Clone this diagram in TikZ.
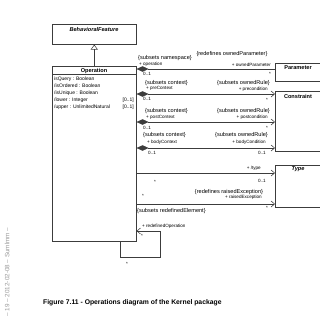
\documentclass[tikz,border=0pt]{standalone}
\usepackage{fontspec}
\setmainfont{Liberation Sans}
\usetikzlibrary{arrows.meta}
\definecolor{linecol}{HTML}{3C3C3C}
\begin{document}
\begin{tikzpicture}[x=1pt,y=-1pt,
  cls/.style={draw=linecol,line width=0.55pt,inner sep=0pt,anchor=north west},
  clsname/.style={font=\fontsize{5.6}{6}\selectfont\bfseries,inner sep=0pt},
  attr/.style={font=\fontsize{5}{6}\selectfont,inner sep=0pt},
  lab/.style={font=\fontsize{5.6}{6}\selectfont,inner sep=0pt},
  role/.style={font=\fontsize{4.6}{5}\selectfont,inner sep=0pt},
  conn/.style={draw=linecol,line width=0.55pt},
  comp/.style={conn,{Diamond[length=12pt,width=5.5pt]}-},
  nav/.style={conn,-{Straight Barb[length=3.5pt,width=6pt,line width=0.55pt]}},
  compnav/.style={conn,{Diamond[length=12pt,width=5.5pt]}-{Straight Barb[length=3.5pt,width=6pt,line width=0.55pt]}}]
\useasboundingbox (0,0) rectangle (320,330);
\clip (0,0) rectangle (320,330);

% classes
\node[cls,minimum width=84pt,minimum height=20pt] (bf) at (52,24) {};
\node[clsname,font=\fontsize{5.6}{6}\selectfont\bfseries\itshape] (bfname) at (94,29.5) {BehavioralFeature};

\node[cls,minimum width=84pt,minimum height=175pt] (op) at (52,66) {};
\node[clsname] (opname) at (94,71) {Operation};
\draw[conn] ([yshift=-8.5pt]op.north west) -- ([yshift=-8.5pt]op.north east);
\node[attr,anchor=west] (a1) at (54,79) {isQuery : Boolean};
\node[attr,anchor=west] (a2) at (54,86) {/isOrdered : Boolean};
\node[attr,anchor=west] (a3) at (54,93) {/isUnique : Boolean};
\node[attr,anchor=west] (a4) at (54,100) {/lower : Integer};
\node[attr,anchor=west] (a5) at (54,107) {/upper : UnlimitedNatural};
\node[attr,anchor=east] (m4) at (134,100) {[0..1]};
\node[attr,anchor=east] (m5) at (134,107) {[0..1]};

\node[cls,minimum width=60pt,minimum height=18pt] (par) at (275,63) {};
\node[clsname] (parname) at (298,67.5) {Parameter};
\node[cls,minimum width=60pt,minimum height=60pt] (con) at (275,91) {};
\node[clsname] (conname) at (298,96.5) {Constraint};
\node[cls,minimum width=60pt,minimum height=42pt] (typ) at (275,165) {};
\node[clsname,font=\fontsize{5.6}{6}\selectfont\bfseries\itshape] (typname) at (298,169.5) {Type};

% generalization
\draw[conn,-{Triangle[open,length=5pt,width=7pt]}] (op.north) -- (bf.south);

% operation -- parameter
\draw[comp] (op.east |- 0,69) -- (par.west |- 0,69);
\node[lab,anchor=west] (l1a) at (138,58) {\{subsets namespace\}};
\node[role,anchor=west] (l1b) at (139,64.5) {+ operation};
\node[role,anchor=west] (l1c) at (143,73.5) {0..1};
\node[lab] (l1d) at (232,54.5) {\{redefines ownedParameter\}};
\node[role,anchor=east] (l1e) at (271,64.5) {+ ownedParameter};
\node[role,anchor=east] (l1f) at (271,74) {*};

% precondition
\draw[compnav] (op.east |- 0,94) -- (con.west |- 0,94);
\node[lab,anchor=west] (l2a) at (145,83) {\{subsets context\}};
\node[role,anchor=west] (l2b) at (146,88.5) {+ preContext};
\node[role,anchor=west] (l2c) at (143,99) {0..1};
\node[lab,anchor=east] (l2d) at (270,83) {\{subsets ownedRule\}};
\node[role,anchor=east] (l2e) at (268,89) {+ precondition};
\node[role,anchor=east] (l2f) at (268,99.5) {*};

% postcondition
\draw[compnav] (op.east |- 0,122) -- (con.west |- 0,122);
\node[lab,anchor=west] (l3a) at (145,111) {\{subsets context\}};
\node[role,anchor=west] (l3b) at (146,117) {+ postContext};
\node[role,anchor=west] (l3c) at (143,128) {0..1};
\node[lab,anchor=east] (l3d) at (270,111) {\{subsets ownedRule\}};
\node[role,anchor=east] (l3e) at (268,117) {+ postcondition};
\node[role,anchor=east] (l3f) at (268,127.5) {*};

% body condition
\draw[compnav] (op.east |- 0,148) -- (con.west |- 0,148);
\node[lab,anchor=west] (l4a) at (143,135) {\{subsets context\}};
\node[role,anchor=west] (l4b) at (147,142) {+ bodyContext};
\node[role,anchor=west] (l4c) at (148,153) {0..1};
\node[lab,anchor=east] (l4d) at (268,135) {\{subsets ownedRule\}};
\node[role,anchor=east] (l4e) at (266,142) {+ bodyCondition};
\node[role,anchor=east] (l4f) at (266,153) {0..1};

% type
\draw[nav] (op.east |- 0,173) -- (typ.west |- 0,173);
\node[role,anchor=east] (l5a) at (261,168) {+ /type};
\node[role,anchor=east] (l5b) at (266,181) {0..1};
\node[role] (l5c) at (155,182) {*};

% raised exceptions
\draw[nav] (op.east |- 0,204) -- (typ.west |- 0,204);
\node[role] (l6a) at (143,196) {*};
\node[lab] (l6b) at (229,192.5) {\{redefines raisedException\}};
\node[role,anchor=east] (l6c) at (262,197.5) {+ raisedException};
\node[role,anchor=east] (l6d) at (268,208) {*};

% redefined operation (self association)
\coordinate (s1) at (120,257);
\coordinate (s2) at (160,257);
\coordinate (s3) at (160,231);
\draw[nav] (op.south -| s1) -- (s1) -- (s2) -- (s3) -- (op.east |- s3);
\node[lab,anchor=west] (l7a) at (137,211) {\{subsets redefinedElement\}};
\node[role,anchor=west] (l7b) at (142,226) {+ redefinedOperation};
\node[role] (l7c) at (142,236) {*};
\node[role] (l7d) at (127,264) {*};

% caption
\node[anchor=west,inner sep=0pt,font=\fontsize{6.8}{8}\selectfont\bfseries] (cap) at (43,303)
  {Figure 7.11 - Operations diagram of the Kernel package};

% margin line
\node[rotate=90,inner sep=0pt,text=black!40,font=\fontsize{6.3}{7}\selectfont] (margin) at (7,272)
  {– 19 – 2012-02-08 – Sumlmm –};
\end{tikzpicture}
\end{document}
